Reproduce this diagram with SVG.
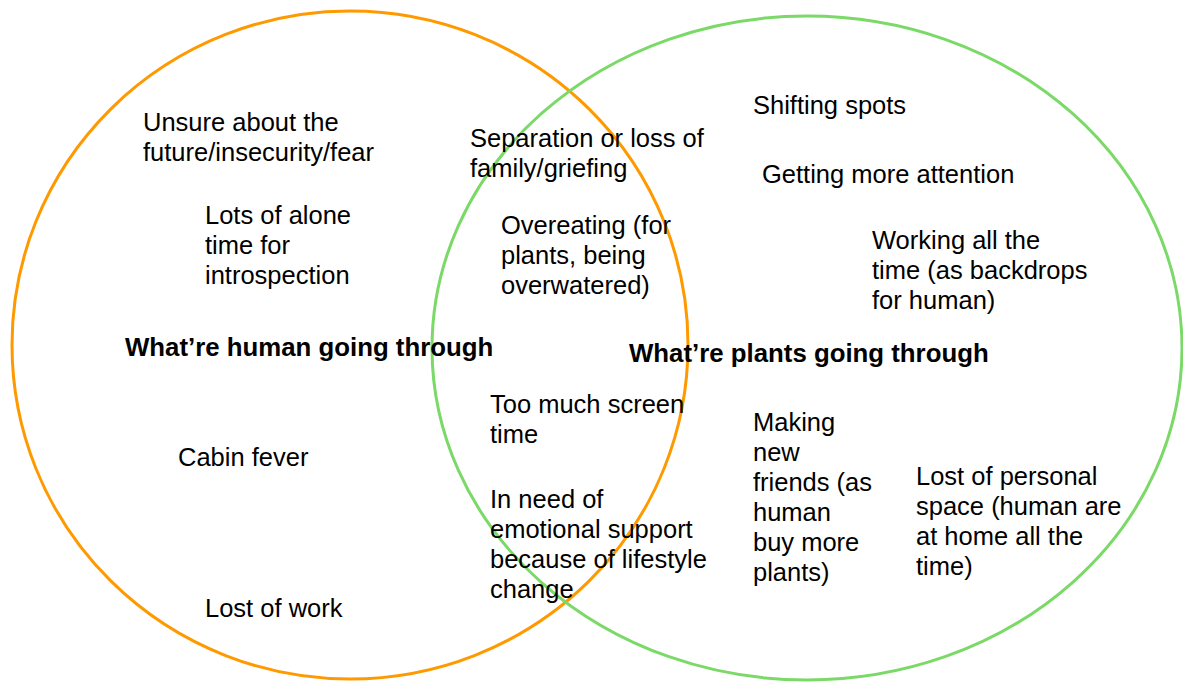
<svg xmlns="http://www.w3.org/2000/svg" width="1183" height="683" viewBox="0 0 1183 683">
  <style>
    .set { fill: none; stroke-width: 3; }
    .human { stroke: #FF9900; }
    .plant { stroke: #7BD968; }
    text { font-family: "Liberation Sans", Arial, sans-serif; font-size: 25.5px; fill: #000; }
    .title { font-weight: bold; font-size: 25.8px; }
  </style>
  <rect width="1183" height="683" fill="#fff"/>

  <!-- the two overlapping sets -->
  <g id="set-human">
    <ellipse class="set human" cx="350" cy="345" rx="338" ry="334"/>
  </g>
  <g id="set-plants">
    <ellipse class="set plant" cx="807" cy="348" rx="375" ry="332"/>
  </g>

  <!-- human-only items -->
  <g id="item-unsure">
    <text x="143" y="131">Unsure about the</text>
    <text x="143" y="161">future/insecurity/fear</text>
  </g>
  <g id="item-alone">
    <text x="205" y="224">Lots of alone</text>
    <text x="205" y="254">time for</text>
    <text x="205" y="284">introspection</text>
  </g>
  <g id="title-human">
    <text class="title" x="125" y="356">What’re human going through</text>
  </g>
  <g id="item-cabin">
    <text x="178" y="466">Cabin fever</text>
  </g>
  <g id="item-work">
    <text x="205" y="617">Lost of work</text>
  </g>

  <!-- shared items -->
  <g id="item-separation">
    <text x="470" y="147">Separation or loss of</text>
    <text x="470" y="177">family/griefing</text>
  </g>
  <g id="item-overeating">
    <text x="501" y="234">Overeating (for</text>
    <text x="501" y="264">plants, being</text>
    <text x="501" y="294">overwatered)</text>
  </g>
  <g id="item-screen">
    <text x="490" y="413">Too much screen</text>
    <text x="490" y="443">time</text>
  </g>
  <g id="item-support">
    <text x="490" y="508">In need of</text>
    <text x="490" y="538">emotional support</text>
    <text x="490" y="568">because of lifestyle</text>
    <text x="490" y="598">change</text>
  </g>

  <!-- plant-only items -->
  <g id="item-spots">
    <text x="753" y="114">Shifting spots</text>
  </g>
  <g id="item-attention">
    <text x="762" y="183">Getting more attention</text>
  </g>
  <g id="item-working">
    <text x="872" y="249">Working all the</text>
    <text x="872" y="279">time (as backdrops</text>
    <text x="872" y="309">for human)</text>
  </g>
  <g id="title-plants">
    <text class="title" x="629" y="362">What’re plants going through</text>
  </g>
  <g id="item-friends">
    <text x="753" y="431">Making</text>
    <text x="753" y="461">new</text>
    <text x="753" y="491">friends (as</text>
    <text x="753" y="521">human</text>
    <text x="753" y="551">buy more</text>
    <text x="753" y="581">plants)</text>
  </g>
  <g id="item-space">
    <text x="916" y="485">Lost of personal</text>
    <text x="916" y="515">space (human are</text>
    <text x="916" y="545">at home all the</text>
    <text x="916" y="575">time)</text>
  </g>

  <!-- no connectors in this diagram -->
  <g id="connectors"/>
</svg>
